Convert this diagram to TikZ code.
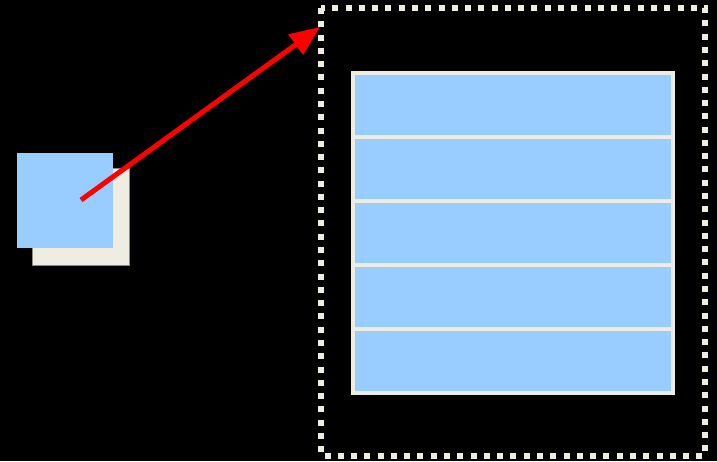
\documentclass[tikz,border=0pt]{standalone}
\usetikzlibrary{arrows.meta}
\definecolor{paleblue}{HTML}{99CCFF}
\definecolor{cream}{HTML}{EFEDE1}
\definecolor{shadowedge}{HTML}{8A8A84}
\begin{document}
\begin{tikzpicture}[x=1pt,y=-1pt,
  bluebox/.style={fill=paleblue,draw=none,inner sep=0pt,outer sep=0pt},
  shadowbox/.style={fill=cream,draw=shadowedge,line width=0.8pt,inner sep=0pt,outer sep=0pt},
  dotframe/.style={draw=cream,line width=6pt,dash pattern=on 6pt off 7.28pt},
  pointer/.style={draw=red,line width=5pt,-{Triangle[length=30pt,width=24pt]}}]
  % background
  \fill[black] (0,0) rectangle (717,461);
  \useasboundingbox (0,0) rectangle (717,461);

  % small square with its shadow
  \path[shadowbox] (32,168) rectangle (129,265);
  \node[bluebox,minimum width=96pt,minimum height=95pt,anchor=north west] (src) at (17,153) {};

  % dotted frame
  \draw[dotframe] (321,8) rectangle (705,456);
  \coordinate (target) at (320,27);

  % stacked table of five rows
  \fill[cream] (351,71) rectangle (675,395);
  \foreach \i in {0,...,4} {
    \node[bluebox,minimum width=316pt,minimum height=60pt,anchor=north west]
      (row\i) at (355,75+64*\i) {};
  }

  % arrow from the square to the frame
  \coordinate (start) at (81,200);
  \draw[pointer] (start) -- (target);
\end{tikzpicture}
\end{document}
